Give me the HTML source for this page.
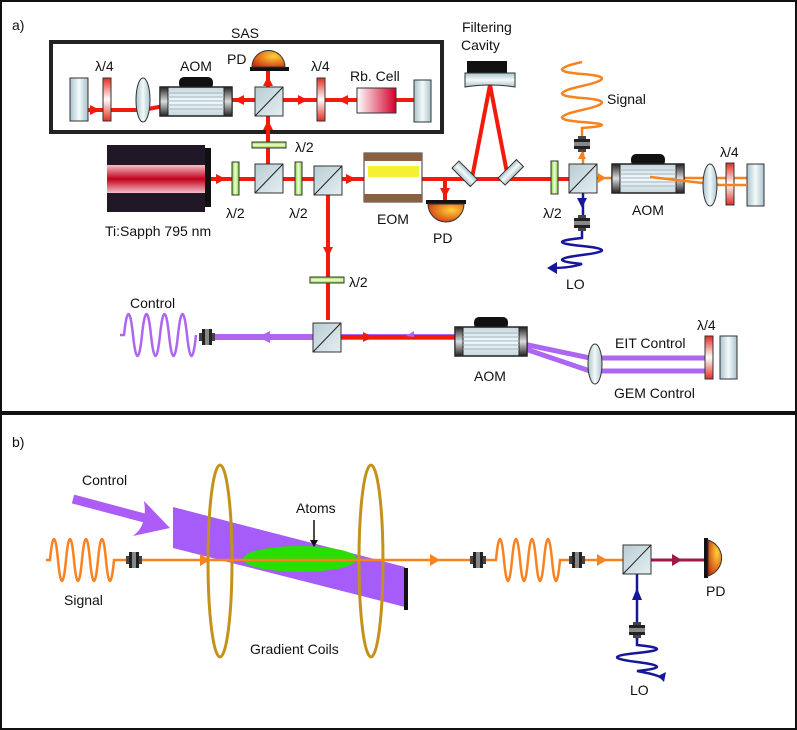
<!DOCTYPE html>
<html><head><meta charset="utf-8"><style>
html,body{margin:0;padding:0;background:#fff}
svg{display:block}
text{font-family:"Liberation Sans",sans-serif;font-size:14px;fill:#111}
</style></head><body>
<svg width="797" height="730" viewBox="0 0 797 730" xmlns="http://www.w3.org/2000/svg">
<defs>
<linearGradient id="mir" x1="0" x2="1"><stop offset="0" stop-color="#a9c3cc"/><stop offset="0.5" stop-color="#f4fafb"/><stop offset="1" stop-color="#a9c3cc"/></linearGradient>
<linearGradient id="mirv" x1="0" y1="0" x2="0" y2="1"><stop offset="0" stop-color="#a9c3cc"/><stop offset="0.5" stop-color="#f4fafb"/><stop offset="1" stop-color="#a9c3cc"/></linearGradient>
<linearGradient id="q4" x1="0" y1="0" x2="0" y2="1"><stop offset="0" stop-color="#e52a1e"/><stop offset="0.5" stop-color="#fff"/><stop offset="1" stop-color="#e52a1e"/></linearGradient>
<linearGradient id="h2" x1="0" y1="0" x2="0" y2="1"><stop offset="0" stop-color="#7ed321"/><stop offset="0.5" stop-color="#f2ffe0"/><stop offset="1" stop-color="#7ed321"/></linearGradient>
<linearGradient id="h2h" x1="0" x2="1"><stop offset="0" stop-color="#7ed321"/><stop offset="0.5" stop-color="#f2ffe0"/><stop offset="1" stop-color="#7ed321"/></linearGradient>
<linearGradient id="rb" x1="0" x2="1"><stop offset="0" stop-color="#fff"/><stop offset="1" stop-color="#d2002a"/></linearGradient>
<linearGradient id="las" x1="0" y1="0" x2="0" y2="1"><stop offset="0" stop-color="#f3c0c8"/><stop offset="0.5" stop-color="#c0001a"/><stop offset="1" stop-color="#f3c0c8"/></linearGradient>
<linearGradient id="aom" x1="0" y1="0" x2="0" y2="1"><stop offset="0" stop-color="#c5d5dc"/><stop offset="0.5" stop-color="#f5fafc"/><stop offset="1" stop-color="#c5d5dc"/></linearGradient>
<linearGradient id="aend" x1="0" y1="0" x2="0" y2="1"><stop offset="0" stop-color="#222"/><stop offset="0.5" stop-color="#ddd"/><stop offset="1" stop-color="#222"/></linearGradient>
<radialGradient id="pd" cx="0.65" cy="0.35" r="0.8"><stop offset="0" stop-color="#ffd23a"/><stop offset="1" stop-color="#cc2a0a"/></radialGradient>
<linearGradient id="cube" x1="0" y1="0" x2="1" y2="1"><stop offset="0" stop-color="#b8cdd4"/><stop offset="1" stop-color="#e4eef1"/></linearGradient>
<g id="aomg">
<rect x="19" y="-10" width="34" height="12" rx="5" fill="#111"/>
<rect x="0" y="0" width="72" height="29" fill="url(#aom)" stroke="#222" stroke-width="1.5"/>
<rect x="0" y="0" width="8" height="29" fill="url(#aend)" stroke="#222"/>
<rect x="64" y="0" width="8" height="29" fill="url(#aend)" stroke="#222"/>
<path d="M8 6H64M8 10H64M8 14H64M8 18H64M8 22H64" stroke="#9fb6bf" stroke-width="1"/>
</g>
<g id="cub"><rect x="0" y="0" width="28" height="29" fill="url(#cube)" stroke="#333" stroke-width="1"/><path d="M0 29L28 0" stroke="#222" stroke-width="1"/></g>
<g id="fib"><rect x="-8" y="-4" width="16" height="8" fill="#444"/><rect x="-5" y="-8" width="10" height="16" fill="#222"/><rect x="-2" y="-8" width="4" height="16" fill="#888"/></g>
<g id="fibv"><rect x="-4" y="-8" width="8" height="16" fill="#444"/><rect x="-8" y="-5" width="16" height="10" fill="#222"/><rect x="-8" y="-2" width="16" height="4" fill="#888"/></g>
</defs>
<rect x="1" y="1" width="795" height="728" fill="#fff" stroke="#111" stroke-width="2"/>
<rect x="0" y="411" width="797" height="4" fill="#111"/>
<text x="12" y="30">a)</text>
<text x="12" y="447">b)</text>

<rect x="51" y="42" width="391" height="90" fill="none" stroke="#222" stroke-width="4"/>
<text x="231" y="38">SAS</text>
<path d="M88 110H143L195 100H414" stroke="#f21a0a" stroke-width="4" fill="none"/>
<path d="M268 179V71" stroke="#f21a0a" stroke-width="4"/>
<rect x="70" y="78" width="18" height="43" fill="url(#mir)" stroke="#333"/>
<rect x="103" y="78" width="8" height="43" fill="url(#q4)" stroke="#333"/>
<text x="95" y="71">λ/4</text>
<ellipse cx="143" cy="100" rx="7" ry="22" fill="url(#mir)" stroke="#333"/>
<use href="#aomg" x="160" y="87"/>
<text x="180" y="71">AOM</text>
<use href="#cub" x="255" y="87"/>
<path d="M250 67H289V71H250Z" fill="#111"/><path d="M252 67A16 16 0 0 1 285 67Z" fill="url(#pd)" stroke="#333"/>
<text x="227" y="64">PD</text>
<rect x="317" y="78" width="8" height="43" fill="url(#q4)" stroke="#333"/>
<text x="311" y="71">λ/4</text>
<rect x="357" y="88" width="39" height="25" fill="url(#rb)" stroke="#333"/>
<text x="350" y="81">Rb. Cell</text>
<rect x="414" y="80" width="17" height="42" fill="url(#mir)" stroke="#333"/>
<g fill="#f21a0a"><path d="M90 105l10 5-10 5z"/><path d="M244 95l-10 5 10 5z"/><path d="M298 95l10 5-10 5z"/><path d="M348 95l-10 5 10 5z"/><path d="M263 86l5-10 5 10z"/><path d="M263 130l5-10 5 10z"/></g>

<path d="M211 179H580" stroke="#f21a0a" stroke-width="4"/>
<path d="M472 178L490 85L508 178" stroke="#f21a0a" stroke-width="4" fill="none"/>
<path d="M445 179V200" stroke="#f21a0a" stroke-width="4"/>
<path d="M328 180V320" stroke="#f21a0a" stroke-width="4"/>
<g fill="#f21a0a"><path d="M216 174l10 5-10 5z"/><path d="M346 174l10 5-10 5z"/><path d="M323 247l5 10 5-10z"/><path d="M440 188l5 10 5-10z"/></g>
<rect x="107" y="145" width="98" height="67" fill="#201827"/>
<rect x="107" y="165" width="98" height="28" fill="url(#las)"/>
<rect x="205" y="148" width="6" height="59" fill="#111"/>
<text x="105" y="236">Ti:Sapph 795 nm</text>
<rect x="232" y="162" width="7" height="33" fill="url(#h2h)" stroke="#333"/>
<text x="226" y="218">λ/2</text>
<use href="#cub" x="255" y="164"/>
<rect x="252" y="142" width="34" height="6" fill="url(#h2)" stroke="#333"/>
<text x="295" y="152">λ/2</text>
<rect x="295" y="162" width="7" height="33" fill="url(#h2h)" stroke="#333"/>
<text x="289" y="218">λ/2</text>
<use href="#cub" x="314" y="166"/>
<rect x="364" y="153" width="58" height="49" fill="#fff" stroke="#333"/>
<rect x="364" y="153" width="58" height="8" fill="#8a6040"/>
<rect x="364" y="194" width="58" height="8" fill="#8a6040"/>
<rect x="368" y="166" width="51" height="11" fill="#f5f032"/>
<text x="377" y="224">EOM</text>
<rect x="447" y="166" width="26" height="10" transform="rotate(45 459 178)" fill="url(#mirv)" stroke="#333" />
<rect x="503" y="166" width="26" height="10" transform="rotate(-45 515 178)" fill="url(#mirv)" stroke="#333"/>
<text x="462" y="32">Filtering</text><text x="461" y="50">Cavity</text>
<rect x="467" y="61" width="40" height="12" fill="#111"/>
<path d="M465 73H515V87Q490 83 465 87Z" fill="url(#mirv)" stroke="#333"/>
<path d="M426 200H466V204H426Z" fill="#111"/><path d="M428 204A17 17 0 0 0 464 204Z" fill="url(#pd)" stroke="#333"/>
<text x="433" y="243">PD</text>
<rect x="551" y="161" width="7" height="33" fill="url(#h2h)" stroke="#333"/>
<text x="543" y="218">λ/2</text>
<path d="M583 178H760" stroke="#f7821e" stroke-width="2.5"/>
<path d="M583 178V150" stroke="#f7821e" stroke-width="2.5"/>
<path d="M583 178V215" stroke="#16169a" stroke-width="2.5"/>
<use href="#cub" x="569" y="164"/>
<path d="M582 137V128 Q622 125 582 122T582 110T582 98T582 86T582 74T582 62" stroke="#f7821e" stroke-width="2.5" fill="none"/>
<text x="607" y="104">Signal</text>
<use href="#fibv" x="582" y="144"/>
<path d="M578 159l4-8 4 8z" fill="#f7821e"/>
<path d="M598 173l8 5-8 5z" fill="#f7821e"/>
<path d="M577 198l5 10 5-10z" fill="#16169a"/>
<use href="#fibv" x="582" y="223"/>
<path d="M582 231V238 Q542 242 582 246T582 255T582 264Q570 268 552 268" stroke="#16169a" stroke-width="2.5" fill="none"/>
<path d="M547 268l10-6v12z" fill="#16169a"/>
<text x="566" y="289">LO</text>
<use href="#aomg" x="612" y="164"/>
<text x="632" y="215">AOM</text>
<path d="M650 177L720 185" stroke="#f7821e" stroke-width="2.5"/>
<ellipse cx="710" cy="185" rx="7" ry="21" fill="url(#mir)" stroke="#333"/>
<rect x="726" y="163" width="8" height="42" fill="url(#q4)" stroke="#333"/>
<text x="720" y="157">λ/4</text>
<rect x="747" y="164" width="17" height="42" fill="url(#mir)" stroke="#333"/>
<path d="M718 185H747" stroke="#f7821e" stroke-width="2.5"/>

<path d="M215 337H490" stroke="#ad66f0" stroke-width="6"/>
<path d="M490 337L590 358H712M490 337L590 371H712" stroke="#ad66f0" stroke-width="5" fill="none"/>
<path d="M328 337H497" stroke="#f21a0a" stroke-width="4"/>
<path d="M363 332l10 5-10 5z" fill="#f21a0a"/>
<path d="M270 331l-12 6 12 6z" fill="#ad66f0"/>
<path d="M414 331l-8 5 8 1z" fill="#ad66f0"/>
<rect x="310" y="277" width="34" height="6" fill="url(#h2)" stroke="#333"/>
<text x="349" y="287">λ/2</text>
<use href="#cub" x="313" y="323"/>
<use href="#aomg" x="455" y="327"/>
<text x="474" y="381">AOM</text>
<path d="M120 335H124 Q128.5 293 133 335T142 335T151 335T160 335T169 335T178 335T187 335T196 335" stroke="#ad66f0" stroke-width="2.5" fill="none"/>
<text x="130" y="308">Control</text>
<use href="#fib" x="207" y="337"/>
<ellipse cx="595" cy="364" rx="7" ry="20" fill="url(#mir)" stroke="#333"/>
<rect x="705" y="336" width="8" height="43" fill="url(#q4)" stroke="#333"/>
<rect x="720" y="336" width="17" height="43" fill="url(#mir)" stroke="#333"/>
<text x="697" y="330">λ/4</text>
<text x="615" y="348">EIT Control</text>
<text x="614" y="398">GEM Control</text>

<path d="M73 499L152 520" stroke="#ad5cf6" stroke-width="9"/>
<path d="M170 528L144 501Q148 525 133 536Z" fill="#ad5cf6"/>
<text x="82" y="485">Control</text>
<path d="M173 507L405 567V607L173 548Z" fill="#a55cf8"/>
<rect x="404" y="568" width="4" height="42" fill="#111"/>
<ellipse cx="220" cy="561" rx="12" ry="96" fill="none" stroke="#c4921a" stroke-width="3"/>
<ellipse cx="371" cy="561" rx="12" ry="96" fill="none" stroke="#c4921a" stroke-width="3"/>
<ellipse cx="300" cy="559" rx="57" ry="13" fill="#27e000"/>
<path d="M314 520V544" stroke="#111" stroke-width="1.5"/><path d="M310 540l4 7 4-7z" fill="#111"/>
<text x="296" y="513">Atoms</text>
<text x="250" y="654">Gradient Coils</text>
<path d="M140 560H470" stroke="#f7821e" stroke-width="2.5"/>
<path d="M200 554l10 6-10 6z" fill="#f7821e"/><path d="M430 554l10 6-10 6z" fill="#f7821e"/>
<path d="M46 560H50 Q54 518 58 560T66 560T74 560T82 560T90 560T98 560T106 560T114 560H126" stroke="#f7821e" stroke-width="2.5" fill="none"/>
<text x="64" y="605">Signal</text>
<use href="#fib" x="134" y="560"/>
<use href="#fib" x="478" y="560"/>
<path d="M486 560H496 Q500 518 504 560T512 560T520 560T528 560T536 560T544 560T552 560T560 560H570" stroke="#f7821e" stroke-width="2.5" fill="none"/>
<use href="#fib" x="577" y="560"/>
<path d="M585 560H637" stroke="#f7821e" stroke-width="2.5"/>
<path d="M597 554l10 6-10 6z" fill="#f7821e"/>
<path d="M637 560H705" stroke="#a01848" stroke-width="3"/>
<path d="M672 554l10 6-10 6z" fill="#a01848"/>
<path d="M637 560V640" stroke="#16169a" stroke-width="2.5"/>
<path d="M632 600l5-12 5 12z" fill="#16169a"/>
<use href="#cub" x="623" y="545"/>
<rect x="704" y="538" width="4" height="40" fill="#111"/>
<path d="M708 540A20 19 0 0 1 708 576Z" fill="url(#pd)" stroke="#333"/>
<text x="706" y="596">PD</text>
<use href="#fibv" x="637" y="630"/>
<path d="M637 638V645 Q677 649 637 653T637 662T637 671Q660 675 663 679" stroke="#16169a" stroke-width="2.5" fill="none"/>
<path d="M666 672l-2 10-6-6z" fill="#16169a"/>
<text x="630" y="695">LO</text>
</svg>
</body></html>
